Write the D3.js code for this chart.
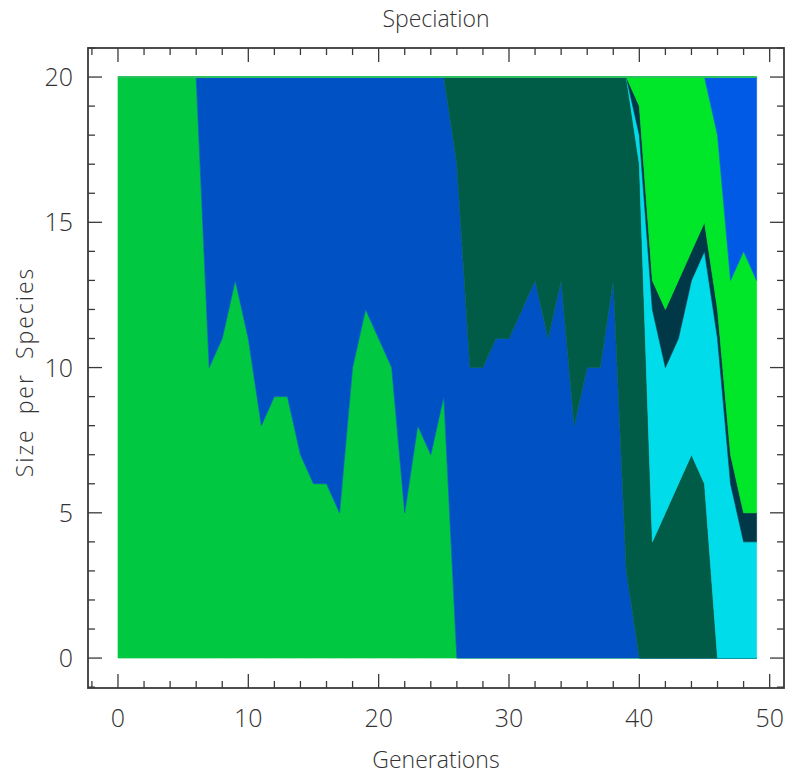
<!DOCTYPE html>
<html>
<head>
<meta charset="utf-8">
<script src="https://cdn.jsdelivr.net/npm/d3@7"></script>
<style>
  body { margin: 0; background: #fff; }
  text { font-family: "Open Sans", sans-serif; font-weight: 300; fill: #333; }
</style>
</head>
<body>
<svg id="chart" width="786" height="775"></svg>
<script>
// species size per generation (population is always 20)
const generations = d3.range(0, 50);
const speciesA = [20,20,20,20,20,20,20,10,11,13,11,8,9,9,7,6,6,5,10,12,11,10,5,8,7,9,
                  0,0,0,0,0,0,0,0,0,0,0,0,0,0,0,0,0,0,0,0,0,0,0,0];
const speciesB = [0,0,0,0,0,0,0,10,9,7,9,12,11,11,13,14,14,15,10,8,9,10,15,12,13,11,
                  17,10,10,11,11,12,13,11,13,8,10,10,13,3,0,0,0,0,0,0,0,0,0,0];
const speciesC = [0,0,0,0,0,0,0,0,0,0,0,0,0,0,0,0,0,0,0,0,0,0,0,0,0,0,
                  3,10,10,9,9,8,7,9,7,12,10,10,7,17,17,4,5,6,7,6,0,0,0,0];
const speciesD = [0,0,0,0,0,0,0,0,0,0,0,0,0,0,0,0,0,0,0,0,0,0,0,0,0,0,
                  0,0,0,0,0,0,0,0,0,0,0,0,0,0,1,8,5,5,6,8,11,6,4,4];
const speciesE = [0,0,0,0,0,0,0,0,0,0,0,0,0,0,0,0,0,0,0,0,0,0,0,0,0,0,
                  0,0,0,0,0,0,0,0,0,0,0,0,0,0,1,1,2,2,1,1,1,1,1,1];
const speciesF = [0,0,0,0,0,0,0,0,0,0,0,0,0,0,0,0,0,0,0,0,0,0,0,0,0,0,
                  0,0,0,0,0,0,0,0,0,0,0,0,0,0,1,7,8,7,6,5,6,6,9,8];
const speciesG = [0,0,0,0,0,0,0,0,0,0,0,0,0,0,0,0,0,0,0,0,0,0,0,0,0,0,
                  0,0,0,0,0,0,0,0,0,0,0,0,0,0,0,0,0,0,0,0,2,7,6,7];

const keys = ["A","B","C","D","E","F","G"];
const colors = ["#00c840","#0052c4","#005c46","#00dcea","#003848","#00e628","#005ae6"];
const series = [speciesA, speciesB, speciesC, speciesD, speciesE, speciesF, speciesG];

const xTicks = [0,10,20,30,40,50];
const yTicks = [0,5,10,15,20];

const rows = generations.map((g, i) => {
    const r = {gen: g};
    keys.forEach((k, j) => r[k] = series[j][i]);
    return r;
});

const frameL = 88, frameR = 784, frameT = 48, frameB = 688;

const x = d3.scaleLinear().domain([-2.3, 51.1]).range([frameL, frameR]);
const y = d3.scaleLinear().domain([-1.03, 21]).range([frameB, frameT]);

const svg = d3.select("#chart");

const stacked = d3.stack().keys(keys)(rows);

const area = d3.area()
    .x(d => x(d.data.gen))
    .y0(d => y(d[0]))
    .y1(d => y(d[1]));

svg.append("g").selectAll("path")
    .data(stacked)
    .join("path")
    .attr("d", area)
    .attr("fill", (d, i) => colors[i])
    .attr("stroke", (d, i) => colors[i])
    .attr("stroke-width", 0.6);

// thin line along the top of the stack
svg.append("line")
    .attr("x1", x(0)).attr("x2", x(49))
    .attr("y1", y(20)).attr("y2", y(20))
    .attr("stroke", "#2cc060").attr("stroke-width", 2);

// frame
svg.append("rect")
    .attr("x", frameL).attr("y", frameT)
    .attr("width", frameR - frameL).attr("height", frameB - frameT)
    .attr("fill", "none").attr("stroke", "#3a3a3a").attr("stroke-width", 1.8);

const tickColor = "#3a3a3a";
const xMinor = d3.range(-2, 51, 2);
const yMinor = d3.range(-1, 22, 1).filter(v => y(v) >= frameT && y(v) <= frameB);

// x ticks, bottom pointing up and top pointing down
xMinor.forEach(v => {
    const len = v % 10 === 0 ? 14 : 7;
    svg.append("line").attr("x1", x(v)).attr("x2", x(v))
        .attr("y1", frameB).attr("y2", frameB - len)
        .attr("stroke", tickColor).attr("stroke-width", 1.3);
    svg.append("line").attr("x1", x(v)).attr("x2", x(v))
        .attr("y1", frameT).attr("y2", frameT + len)
        .attr("stroke", tickColor).attr("stroke-width", 1.3);
});

// y ticks, left and right
yMinor.forEach(v => {
    const len = v % 5 === 0 ? 14 : 7;
    svg.append("line").attr("x1", frameL).attr("x2", frameL + len)
        .attr("y1", y(v)).attr("y2", y(v))
        .attr("stroke", tickColor).attr("stroke-width", 1.3);
    svg.append("line").attr("x1", frameR).attr("x2", frameR - len)
        .attr("y1", y(v)).attr("y2", y(v))
        .attr("stroke", tickColor).attr("stroke-width", 1.3);
});

svg.append("g").selectAll("text")
    .data(xTicks)
    .join("text")
    .attr("x", d => x(d))
    .attr("y", 727)
    .attr("text-anchor", "middle")
    .attr("font-size", 25)
    .text(d => d);

svg.append("g").selectAll("text")
    .data(yTicks)
    .join("text")
    .attr("x", 73)
    .attr("y", d => y(d) + 9)
    .attr("text-anchor", "end")
    .attr("font-size", 25)
    .text(d => d);

svg.append("text")
    .attr("x", 436).attr("y", 27)
    .attr("text-anchor", "middle")
    .attr("font-size", 23)
    .text("Speciation");

svg.append("text")
    .attr("x", 436).attr("y", 768)
    .attr("text-anchor", "middle")
    .attr("font-size", 23)
    .text("Generations");

svg.append("text")
    .attr("transform", "translate(33,372) rotate(-90)")
    .attr("text-anchor", "middle")
    .attr("font-size", 23)
    .attr("letter-spacing", 2)
    .attr("word-spacing", 6)
    .text("Size per Species");
</script>
</body>
</html>
